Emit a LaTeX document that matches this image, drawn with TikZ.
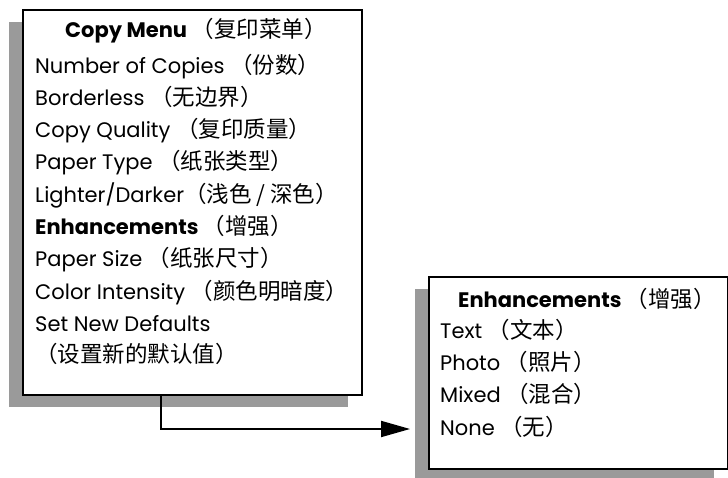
\documentclass[tikz,border=0pt]{standalone}
\usepackage{fontspec}
\setmainfont{Poppins}
\newfontfamily\cjk{Noto Sans CJK SC}
\usetikzlibrary{arrows.meta,shadows}
\definecolor{shgray}{HTML}{9A9A9A}
\newcommand{\zh}[1]{{\cjk\mdseries\fontsize{22.5}{24}\selectfont #1}}
\begin{document}
\begin{tikzpicture}[x=1pt,y=-1pt,
  box/.style={draw=black, line width=2.2pt, fill=white, anchor=north west, inner sep=0pt,
    drop shadow={shadow xshift=-14pt, shadow yshift=-12pt, fill=shgray, opacity=1}},
  txt/.style={anchor=base west, inner sep=0pt, font=\fontsize{21}{24}\selectfont},
  link/.style={line width=2pt, -{Triangle[length=29pt,width=16pt]}}]
\useasboundingbox (0,0) rectangle (728,478);
% left menu box
\node[box, minimum width=339pt, minimum height=385pt] (menu) at (22,9) {};
\node[txt] (m0) at (65,38) {\bfseries Copy Menu \zh{（复印菜单）}};
\node[txt] (m1) at (35,74) {Number of Copies \zh{（份数）}};
\node[txt] (m2) at (35,106) {Borderless \zh{（无边界）}};
\node[txt] (m3) at (35,138) {Copy Quality \zh{（复印质量）}};
\node[txt] (m4) at (35,170) {Paper Type \zh{（纸张类型）}};
\node[txt] (m5) at (35,203) {Lighter/Darker\zh{（浅色 / 深色）}};
\node[txt] (m6) at (35,235) {\bfseries Enhancements \zh{（增强）}};
\node[txt] (m7) at (35,267) {Paper Size \zh{（纸张尺寸）}};
\node[txt] (m8) at (35,300) {Color Intensity \zh{（颜色明暗度）}};
\node[txt] (m9) at (35,331) {Set New Defaults};
\node[txt] (m10) at (35,362) {\zh{（设置新的默认值）}};
% right enhancements box
\node[box, minimum width=299pt, minimum height=192pt] (enh) at (428,276) {};
\node[txt] (e0) at (458,307) {\bfseries Enhancements \zh{（增强）}};
\node[txt] (e1) at (440,338) {Text \zh{（文本）}};
\node[txt] (e2) at (440,370) {Photo \zh{（照片）}};
\node[txt] (e3) at (440,402) {Mixed \zh{（混合）}};
\node[txt] (e4) at (440,435) {None \zh{（无）}};
% connector
\coordinate (tip) at (410,429);
\draw[link] ([xshift=139pt]menu.south west) |- (tip);
\end{tikzpicture}
\end{document}
